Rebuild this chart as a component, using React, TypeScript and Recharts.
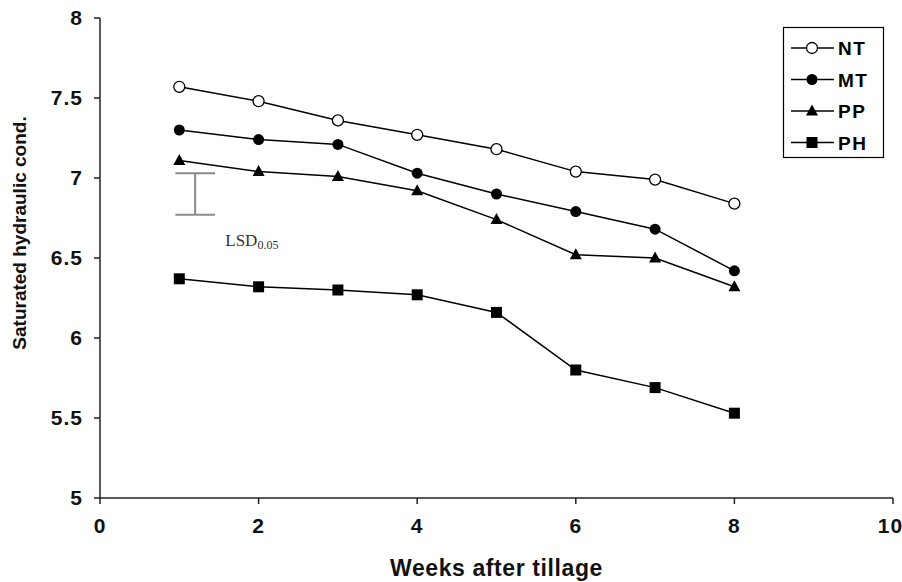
import React from 'react';
import {
  LineChart,
  Line,
  XAxis,
  YAxis,
  ReferenceLine,
  ReferenceDot,
} from 'recharts';

const weeks = [1, 2, 3, 4, 5, 6, 7, 8];
const ntValues = [7.57, 7.48, 7.36, 7.27, 7.18, 7.04, 6.99, 6.84];
const mtValues = [7.3, 7.24, 7.21, 7.03, 6.9, 6.79, 6.68, 6.42];
const ppValues = [7.11, 7.04, 7.01, 6.92, 6.74, 6.52, 6.5, 6.32];
const phValues = [6.37, 6.32, 6.3, 6.27, 6.16, 5.8, 5.69, 5.53];
const xTicks = [0, 2, 4, 6, 8, 10];
const yTicks = [5, 5.5, 6, 6.5, 7, 7.5, 8];
const seriesNames = ['NT', 'MT', 'PP', 'PH'];

// LSD bar (x position, top, bottom, cap half-width)
const lsdX = 1.2;
const lsdTop = 7.03;
const lsdBottom = 6.77;
const lsdCap = 0.25;

const data = weeks.map((w, i) => ({
  week: w,
  NT: ntValues[i],
  MT: mtValues[i],
  PP: ppValues[i],
  PH: phValues[i],
}));

const FONT = '"Liberation Sans", Arial, sans-serif';

const Marker = ({ kind, cx, cy }: { kind: string; cx: number; cy: number }) => {
  if (kind === 'NT') return <circle cx={cx} cy={cy} r={5.5} fill="#fff" stroke="#000" strokeWidth={1.3} />;
  if (kind === 'MT') return <circle cx={cx} cy={cy} r={5.5} fill="#000" />;
  if (kind === 'PP') return <path d={`M${cx},${cy - 6.5} L${cx + 6},${cy + 4.5} L${cx - 6},${cy + 4.5} Z`} fill="#000" />;
  return <rect x={cx - 5.5} y={cy - 5.5} width={11} height={11} fill="#000" />;
};

const makeDot = (kind: string) => (props: any) => (
  <Marker key={`${kind}-${props.index}`} kind={kind} cx={props.cx} cy={props.cy} />
);

// legend box drawn in the overlay so it doesn't eat plot space
const LegendBox = ({ x, y }: { x: number; y: number }) => (
  <g transform={`translate(${x},${y})`}>
    <rect x={0.5} y={0.5} width={100} height={130} fill="#fff" stroke="#000" strokeWidth={1.2} />
    {seriesNames.map((name, i) => {
      const ly = 21 + i * 31.5;
      return (
        <g key={name}>
          <line x1={8} x2={51} y1={ly} y2={ly} stroke="#000" strokeWidth={1.5} />
          <Marker kind={name} cx={29} cy={ly} />
          <text x={55} y={ly + 7} fontFamily={FONT} fontWeight="bold" fontSize={19} letterSpacing={1.5} fill="#000">
            {name}
          </text>
        </g>
      );
    })}
  </g>
);

const LsdLabel = (props: any) => {
  const { viewBox } = props;
  return (
    <text x={viewBox.x} y={viewBox.y + 6} fontFamily='"Liberation Serif", "Times New Roman", serif' fontSize={17} fill="#333">
      LSD
      <tspan fontSize={12} dy={3}>0.05</tspan>
    </text>
  );
};

export default function App() {
  return (
    <div style={{ position: 'absolute', left: 0, top: 0, width: 902, height: 582, background: '#fff' }}>
      <LineChart width={902} height={582} data={data} margin={{ top: 18, right: 9, bottom: 54, left: 40 }}>
        <XAxis
          dataKey="week"
          type="number"
          domain={[0, 10]}
          ticks={xTicks}
          stroke="#222"
          strokeWidth={1.5}
          tickSize={6}
          tick={{ fontFamily: FONT, fontWeight: 'bold', fontSize: 21, fill: '#111', dy: 12, letterSpacing: 1 }}
          label={{
            value: 'Weeks after tillage',
            position: 'insideBottom',
            offset: -48,
            style: { fontFamily: FONT, fontWeight: 'bold', fontSize: 23, fill: '#111', letterSpacing: 0.6 },
          }}
        />
        <YAxis
          type="number"
          domain={[5, 8]}
          ticks={yTicks}
          width={60}
          stroke="#222"
          strokeWidth={1.5}
          tickSize={6}
          tick={{ fontFamily: FONT, fontWeight: 'bold', fontSize: 21, fill: '#111', dx: -9, letterSpacing: 1 }}
        />
        <ReferenceLine
          segment={[{ x: lsdX, y: lsdTop }, { x: lsdX, y: lsdBottom }]}
          stroke="#8a8a8a"
          strokeWidth={2}
        />
        <ReferenceLine
          segment={[{ x: lsdX - lsdCap, y: lsdTop }, { x: lsdX + lsdCap, y: lsdTop }]}
          stroke="#8a8a8a"
          strokeWidth={2}
        />
        <ReferenceLine
          segment={[{ x: lsdX - lsdCap, y: lsdBottom }, { x: lsdX + lsdCap, y: lsdBottom }]}
          stroke="#8a8a8a"
          strokeWidth={2}
        />
        <ReferenceDot x={1.58} y={6.61} r={0} fill="none" stroke="none" label={<LsdLabel />} />
        {seriesNames.map((name) => (
          <Line
            key={name}
            dataKey={name}
            type="linear"
            stroke="#000"
            strokeWidth={1.5}
            dot={makeDot(name)}
            activeDot={false}
            isAnimationActive={false}
          />
        ))}
      </LineChart>
      <svg width={902} height={582} style={{ position: 'absolute', left: 0, top: 0, pointerEvents: 'none' }}>
        <text
          x={21}
          y={233}
          transform="rotate(-90 21 233)"
          textAnchor="middle"
          dominantBaseline="middle"
          fontFamily={FONT}
          fontWeight="bold"
          fontSize={19}
          fill="#111"
        >
          Saturated hydraulic cond.
        </text>
        <LegendBox x={783} y={27} />
      </svg>
    </div>
  );
}
